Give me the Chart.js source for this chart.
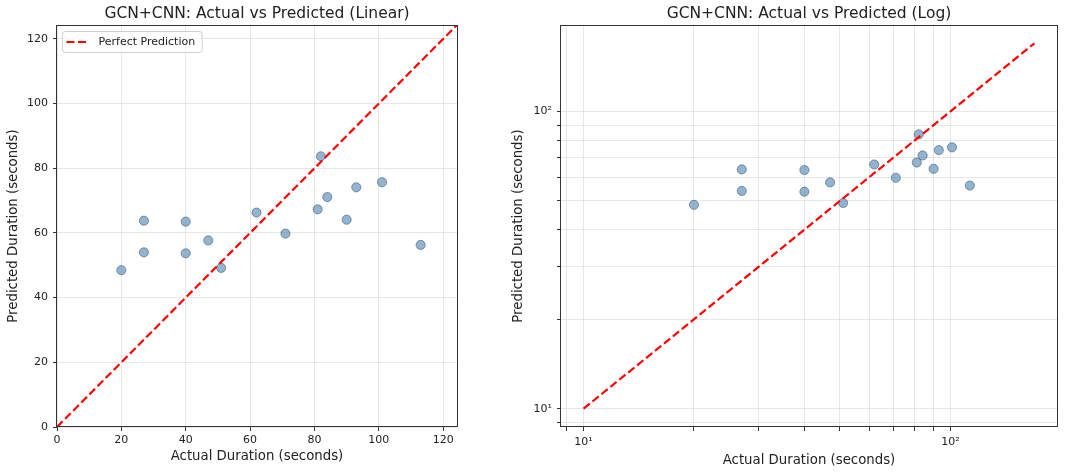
<!DOCTYPE html>
<html>
<head>
<meta charset="utf-8">
<script src="https://cdn.jsdelivr.net/npm/chart.js@4.4.1/dist/chart.umd.min.js"></script>
<style>
  html, body { margin: 0; padding: 0; background: #fff; }
  #wrap { position: relative; width: 1080px; height: 474px; overflow: hidden; }
  #chart1 { position: absolute; left: 0; top: 0; }
  #chart2 { position: absolute; left: 490px; top: 0; }
</style>
</head>
<body>
<div id="wrap">
  <canvas id="chart1" width="490" height="474"></canvas>
  <canvas id="chart2" width="590" height="474"></canvas>
</div>
<script>
// data
var actualDuration    = [20, 27, 27, 40, 40, 47, 51, 62, 71, 81, 82, 84, 90, 93, 101, 113];
var predictedDuration = [48.5, 54.0, 63.8, 53.7, 63.5, 57.7, 49.2, 66.3, 59.8, 67.3, 83.7, 71.1, 64.1, 74.1, 75.7, 56.3];
var linearTicks  = [0, 20, 40, 60, 80, 100, 120];
var logMajorTicks  = [10, 100];
var logMajorLabels = ['10\u00b9', '10\u00b2'];

var points = actualDuration.map(function(v, i) { return { x: v, y: predictedDuration[i] }; });
var allVals = actualDuration.concat(predictedDuration);
var maxVal = Math.max.apply(null, allVals);
var minVal = Math.min.apply(null, allVals);

// perfect prediction line ranges
var linHi = maxVal * 1.1;
var logLo = minVal * 0.5, logHi = maxVal * 1.5;
var span = Math.log10(logHi / logLo);
var logMin = logLo * Math.pow(10, -0.05 * span);
var logMax = logHi * Math.pow(10, 0.05 * span);

var FONT = '"DejaVu Sans", sans-serif';
var TXT = '#222';
var GRID = 'rgba(176,176,176,0.3)';

var pointStyle = {
    backgroundColor: 'rgba(70,130,180,0.6)',
    borderColor: 'rgba(40,50,60,0.55)',
    borderWidth: 0.8,
    pointRadius: 4.6,
    pointHoverRadius: 4.6
};

function lineDataset(lo, hi) {
    return {
        type: 'line',
        label: 'Perfect Prediction',
        data: [{ x: lo, y: lo }, { x: hi, y: hi }],
        borderColor: '#ff0000',
        borderWidth: 2.2,
        borderDash: [8, 3.5],
        pointRadius: 0,
        fill: false
    };
}

function scatterDataset() {
    return Object.assign({ label: 'points', data: points }, pointStyle);
}

// box around the plot area (all four spines)
var frame = {
    id: 'frame',
    afterDraw: function(chart) {
        var a = chart.chartArea, ctx = chart.ctx;
        ctx.save();
        ctx.strokeStyle = '#333';
        ctx.lineWidth = 1;
        ctx.strokeRect(Math.round(a.left) - 0.5, Math.round(a.top) + 0.5,
                       Math.round(a.right - a.left) + 1, Math.round(a.bottom - a.top) - 1);
        ctx.restore();
    }
};

// legend in the upper left corner of the plot
var legendBox = {
    id: 'legendBox',
    afterDatasetsDraw: function(chart) {
        var ds = chart.data.datasets[0];
        var a = chart.chartArea, ctx = chart.ctx;
        ctx.save();
        ctx.font = '11px ' + FONT;
        var tw = ctx.measureText(ds.label).width;
        var x = a.left + 5.5, y = a.top + 6.5, w = 36 + tw + 7, h = 21, r = 3;
        ctx.beginPath();
        ctx.moveTo(x + r, y);
        ctx.arcTo(x + w, y, x + w, y + h, r);
        ctx.arcTo(x + w, y + h, x, y + h, r);
        ctx.arcTo(x, y + h, x, y, r);
        ctx.arcTo(x, y, x + w, y, r);
        ctx.closePath();
        ctx.fillStyle = 'rgba(255,255,255,0.8)';
        ctx.fill();
        ctx.strokeStyle = '#d0d0d0';
        ctx.lineWidth = 1;
        ctx.stroke();
        ctx.beginPath();
        ctx.setLineDash(ds.borderDash);
        ctx.strokeStyle = ds.borderColor;
        ctx.lineWidth = ds.borderWidth;
        ctx.moveTo(x + 4, y + h / 2);
        ctx.lineTo(x + 26, y + h / 2);
        ctx.stroke();
        ctx.setLineDash([]);
        ctx.fillStyle = TXT;
        ctx.textBaseline = 'middle';
        ctx.fillText(ds.label, x + 36, y + h / 2 + 0.5);
        ctx.restore();
    }
};

function axisTitle(text, pad) {
    return { display: true, text: text, color: TXT, font: { family: FONT, size: 13.3 }, padding: pad };
}

// chart1 - linear
var chart1 = new Chart(document.getElementById('chart1'), {
    type: 'scatter',
    data: { datasets: [lineDataset(0, linHi), scatterDataset()] },
    options: {
        responsive: false,
        animation: false,
        events: [],
        layout: { padding: { left: 0, right: 33, top: 0, bottom: 0 } },
        plugins: {
            legend: { display: false },
            tooltip: { enabled: false },
            title: {
                display: true,
                text: 'GCN+CNN: Actual vs Predicted (Linear)',
                color: TXT,
                fullSize: false,
                font: { family: FONT, size: 15.5, weight: 'normal' },
                padding: { top: 4.7, bottom: 1.7 }
            }
        },
        scales: {
            x: {
                type: 'linear', min: 0, max: linHi,
                afterBuildTicks: function(s) { s.ticks = linearTicks.map(function(v) { return { value: v }; }); },
                afterFit: function(s) { s.height = 47; },
                grid: { color: GRID, lineWidth: 1, tickColor: '#333', tickLength: 4 },
                border: { display: false },
                ticks: { color: TXT, font: { family: FONT, size: 11 }, padding: 2.5, maxRotation: 0, autoSkip: false },
                title: axisTitle('Actual Duration (seconds)', { top: 0, bottom: 9.5 })
            },
            y: {
                type: 'linear', min: 0, max: linHi,
                afterBuildTicks: function(s) { s.ticks = linearTicks.map(function(v) { return { value: v }; }); },
                afterFit: function(s) { s.width = 57; },
                grid: { color: GRID, lineWidth: 1, tickColor: '#333', tickLength: 4 },
                border: { display: false },
                ticks: { color: TXT, font: { family: FONT, size: 11 }, padding: 5, autoSkip: false },
                title: axisTitle('Predicted Duration (seconds)', { top: 5.5, bottom: 0 })
            }
        }
    },
    plugins: [frame, legendBox]
});

// chart2 - log-log
function logTicks(s) {
    var ticks = [];
    for (var e = Math.floor(Math.log10(logMin)); e <= Math.ceil(Math.log10(logMax)); e++) {
        for (var m = 1; m <= 9; m++) {
            var v = m * Math.pow(10, e);
            if (v >= logMin && v <= logMax) ticks.push({ value: v });
        }
    }
    s.ticks = ticks;
}
function logLabel(value) {
    var i = logMajorTicks.indexOf(Math.round(value));
    return i >= 0 && Math.abs(value - logMajorTicks[i]) < 1e-6 ? logMajorLabels[i] : '';
}

var chart2 = new Chart(document.getElementById('chart2'), {
    type: 'scatter',
    data: { datasets: [lineDataset(logLo, logHi), scatterDataset()] },
    options: {
        responsive: false,
        animation: false,
        events: [],
        layout: { padding: { left: 0, right: 23, top: 0, bottom: 0 } },
        plugins: {
            legend: { display: false },
            tooltip: { enabled: false },
            title: {
                display: true,
                text: 'GCN+CNN: Actual vs Predicted (Log)',
                color: TXT,
                fullSize: false,
                font: { family: FONT, size: 15.5, weight: 'normal' },
                padding: { top: 4.7, bottom: 1.7 }
            }
        },
        scales: {
            x: {
                type: 'logarithmic', min: logMin, max: logMax,
                afterBuildTicks: logTicks,
                afterFit: function(s) { s.height = 47; },
                grid: { color: GRID, lineWidth: 1, tickColor: '#333', tickLength: 4 },
                border: { display: false },
                ticks: { color: TXT, font: { family: FONT, size: 11 }, padding: 5, maxRotation: 0, autoSkip: false, callback: logLabel },
                title: axisTitle('Actual Duration (seconds)', { top: 0, bottom: 5.5 })
            },
            y: {
                type: 'logarithmic', min: logMin, max: logMax,
                afterBuildTicks: logTicks,
                afterFit: function(s) { s.width = 71; },
                grid: { color: GRID, lineWidth: 1, tickColor: '#333', tickLength: 4 },
                border: { display: false },
                ticks: { color: TXT, font: { family: FONT, size: 11 }, padding: 5, autoSkip: false, callback: logLabel },
                title: axisTitle('Predicted Duration (seconds)', { top: 21, bottom: 0 })
            }
        }
    },
    plugins: [frame]
});
</script>
</body>
</html>
